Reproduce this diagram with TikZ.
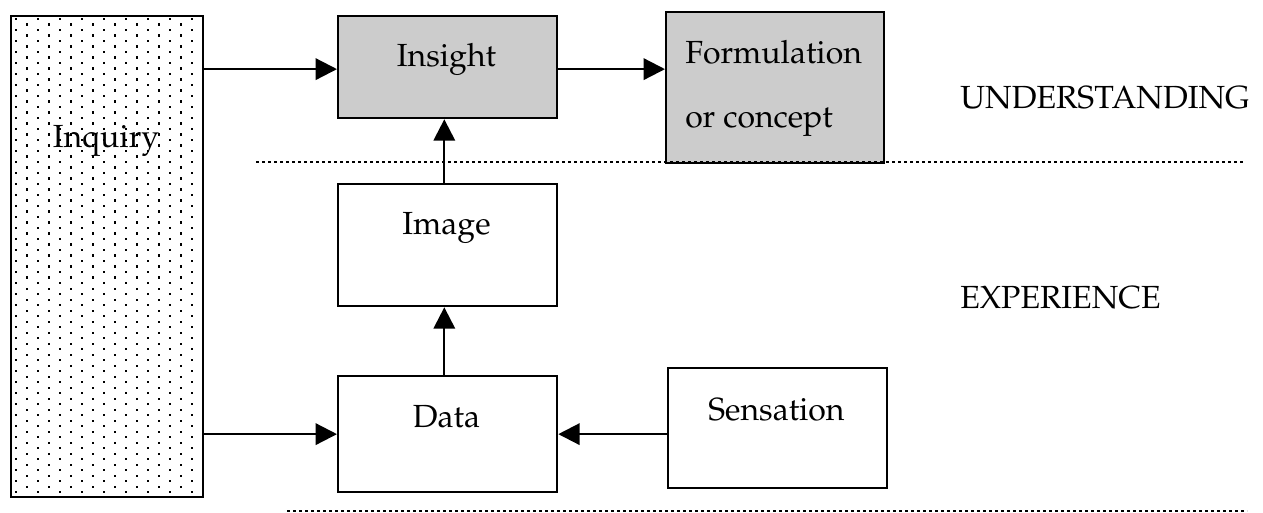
\documentclass[tikz,border=0pt]{standalone}
\usepackage[T1]{fontenc}
\renewcommand{\rmdefault}{ppl}
\usetikzlibrary{arrows.meta}
\begin{document}
\begin{tikzpicture}[x=0.75pt,y=-0.75pt,
  box/.style={draw, line width=1.7pt, inner sep=0pt, anchor=north west},
  grey/.style={fill=boxgrey},
  txt/.style={font=\fontsize{24}{29}\selectfont, inner sep=0pt, anchor=base},
  conn/.style={line width=1.7pt, -{Triangle[length=16pt,width=16pt]}},
  sep/.style={line width=2.2pt, dash pattern=on 2.1pt off 2.4pt}]
\definecolor{boxgrey}{HTML}{CCCCCC}
\useasboundingbox (0,0) rectangle (1263,513);
% dotted pattern inside Inquiry
\begin{scope}
  \clip (10,15) rectangle (202,496);
  \foreach \r in {0,...,43}{
    \foreach \k in {0,...,8}{
      \fill (15+22*\k,18+11*\r) rectangle ++(2.4,2.4);
      \fill (26+22*\k,23.5+11*\r) rectangle ++(2.4,2.4);
    }
  }
\end{scope}
% boxes
\node[box, minimum width=144pt, minimum height=360.75pt] (inq) at (10,15) {};
\node[box, grey, minimum width=164.25pt, minimum height=76.5pt] (ins) at (337,15) {};
\node[box, grey, minimum width=163.5pt, minimum height=113.25pt] (form) at (665,11) {};
\node[box, minimum width=164.25pt, minimum height=91.5pt] (img) at (337,183) {};
\node[box, minimum width=164.25pt, minimum height=87pt] (dat) at (337,375) {};
\node[box, minimum width=164.25pt, minimum height=90pt] (sen) at (667,367) {};
% texts
\node[txt] (tinq) at (106,148) {Inquiry};
\node[txt] (tins) at (446.5,67) {Insight};
\node[txt, anchor=base west] (tform1) at (685,64) {Formulation};
\node[txt, anchor=base west] (tform2) at (685,128) {or concept};
\node[txt] (timg) at (446.5,235) {Image};
\node[txt] (tdat) at (446.5,427) {Data};
\node[txt] (tsen) at (776.5,420) {Sensation};
\node[txt, anchor=base west] (under) at (960,109) {UNDERSTANDING};
\node[txt, anchor=base west] (exper) at (960,308) {EXPERIENCE};
% separators
\coordinate (s1a) at (256,162);
\coordinate (s1b) at (1245,162);
\coordinate (s2a) at (287,511);
\coordinate (s2b) at (1247,511);
\draw[sep] (s1a) -- (s1b);
\draw[sep] (s2a) -- (s2b);
% connectors
\draw[conn] ([yshift=-1.5pt]inq.east |- ins.west) -- ([yshift=-1.5pt]ins.west);
\draw[conn] ([yshift=-1.5pt]ins.east) -- ([yshift=-1.5pt]ins.east -| form.west);
\draw[conn] ([xshift=-2.5pt]img.north) -- ([xshift=-2.5pt]ins.south);
\draw[conn] ([xshift=-2.5pt]dat.north) -- ([xshift=-2.5pt]img.south);
\draw[conn] (inq.east |- dat.west) -- (dat.west);
\draw[conn] (sen.west |- dat.east) -- (dat.east);
\end{tikzpicture}
\end{document}
